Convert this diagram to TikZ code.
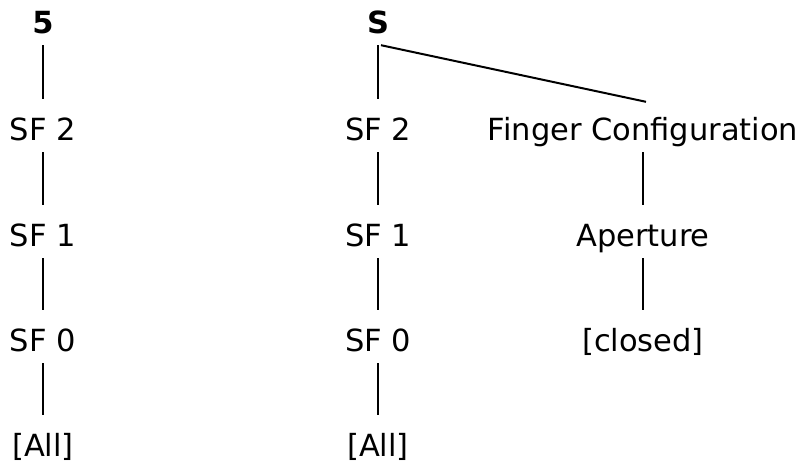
\documentclass[tikz,border=0pt]{standalone}
\usepackage{fontspec}
\setmainfont{DejaVu Sans}
\begin{document}
\begin{tikzpicture}[x=1pt,y=-1pt,
  lbl/.style={inner sep=0pt, text height=22pt, text depth=0pt, font=\fontsize{30.5}{36}\selectfont},
  hd/.style={lbl, font=\fontsize{30.5}{36}\selectfont\bfseries},
  edge/.style={line width=2pt, shorten <=12pt, shorten >=19pt}]
\useasboundingbox (0,0) rectangle (802,464);
\node[hd]  (h1) at (43,22) {5};
\node[lbl] (a2) at (43,129) {SF 2};
\node[lbl] (a1) at (43,235) {SF 1};
\node[lbl] (a0) at (43,340) {SF 0};
\node[lbl] (aa) at (43,445) {[All]};
\node[hd]  (h2) at (378,22) {S};
\node[lbl] (b2) at (378,129) {SF 2};
\node[lbl] (b1) at (378,235) {SF 1};
\node[lbl] (b0) at (378,340) {SF 0};
\node[lbl] (ba) at (378,445) {[All]};
\node[lbl] (fc) at (643,129) {Finger Configuration};
\node[lbl] (ap) at (643,235) {Aperture};
\node[lbl] (cl) at (643,340) {[closed]};
\draw[edge] (h1) -- (a2);
\draw[edge] (a2) -- (a1);
\draw[edge] (a1) -- (a0);
\draw[edge] (a0) -- (aa);
\draw[edge] (h2) -- (b2);
\draw[edge] (b2) -- (b1);
\draw[edge] (b1) -- (b0);
\draw[edge] (b0) -- (ba);
\draw[edge] (fc) -- (ap);
\draw[edge] (ap) -- (cl);
\draw[line width=2pt] ([xshift=3pt,yshift=-12pt]h2.south) -- ([xshift=3pt,yshift=16pt]fc.north);
\end{tikzpicture}
\end{document}
